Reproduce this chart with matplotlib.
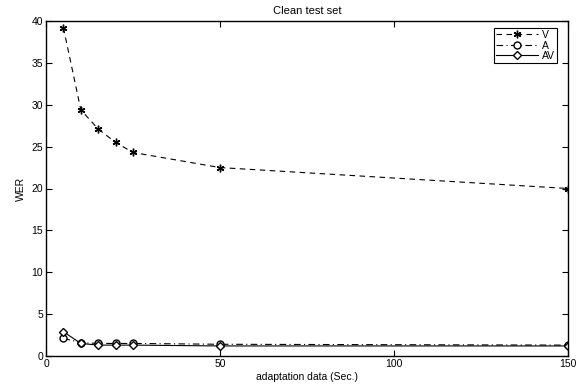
import matplotlib
matplotlib.use("Agg")
import matplotlib.pyplot as plt

x = [5, 10, 15, 20, 25, 50, 150]
wer_v = [39.2, 29.4, 27.1, 25.5, 24.3, 22.5, 20.0]
wer_a = [2.1, 1.6, 1.5, 1.5, 1.5, 1.4, 1.3]
wer_av = [2.9, 1.5, 1.3, 1.3, 1.3, 1.2, 1.2]
xticks = [0, 50, 100, 150]
yticks = [0, 5, 10, 15, 20, 25, 30, 35, 40]

plt.rcParams['font.family'] = ['Liberation Sans', 'DejaVu Sans']
plt.rcParams['font.size'] = 7.5

fig = plt.figure(figsize=(5.84, 3.87), dpi=100)
ax = fig.add_axes([46/584, 1-356/387, (568-46)/584, (356-21)/387])

ax.plot(x, wer_v, linestyle=(0, (5, 4)), color='black', lw=0.8, marker=(6, 2, 0), ms=5.5,
        mfc='black', mec='black', mew=1.0, label='V')
ax.plot(x, wer_a, linestyle=(0, (6, 3, 1, 3)), color='black', lw=0.8, marker='o', ms=5,
        mfc='white', mec='black', label='A')
ax.plot(x, wer_av, linestyle='-', color='black', lw=0.8, marker='D', ms=4.5,
        mfc='white', mec='black', label='AV')

ax.set_xlim(0, 150)
ax.set_ylim(0, 40)
ax.set_xticks(xticks)
ax.set_yticks(yticks)
ax.tick_params(direction='in', top=True, right=True, length=4, width=0.8, pad=2)
for s in ax.spines.values():
    s.set_linewidth(1.0)

ax.set_title('Clean test set', fontsize=8, pad=5)
ax.set_xlabel('adaptation data (Sec.)', labelpad=2)
ax.set_ylabel('WER', labelpad=4)

leg = ax.legend(loc='upper right', bbox_to_anchor=(557/584, 1-28/387),
                bbox_transform=fig.transFigure, fancybox=False, edgecolor='black',
                framealpha=1, handlelength=4.0, handletextpad=0.4, borderpad=0.2,
                labelspacing=0.05, borderaxespad=0, fontsize=7.5)
leg.get_frame().set_linewidth(0.8)

fig.savefig('out.png', dpi=100)
